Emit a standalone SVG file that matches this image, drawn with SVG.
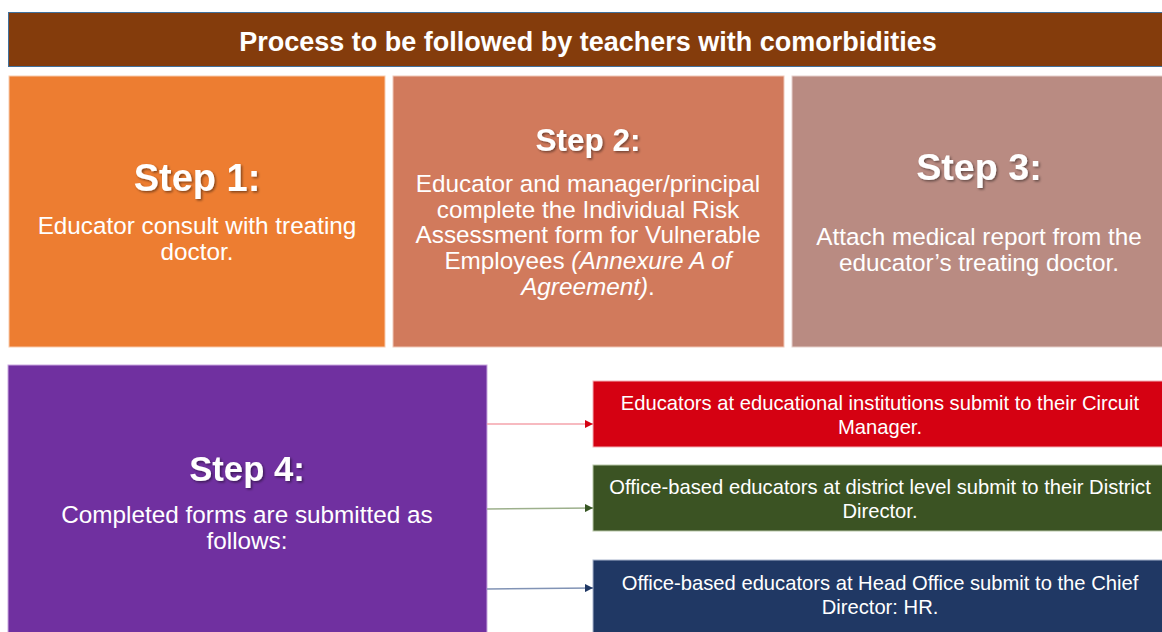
<svg xmlns="http://www.w3.org/2000/svg" width="1162" height="632" viewBox="0 0 1162 632">
<style>
text{font-family:"Liberation Sans",Arial,sans-serif;fill:#fff;text-anchor:middle}
.h{font-weight:bold;filter:url(#sh)}
.b{font-size:24.3px}
.s{font-size:20.2px}
</style>
<defs>
<filter id="sh" x="-10%" y="-20%" width="120%" height="150%">
<feDropShadow dx="1.5" dy="1.5" stdDeviation="1" flood-color="#000" flood-opacity="0.45"/>
</filter>
<marker id="ar" viewBox="0 0 10 10" refX="10" refY="5" markerWidth="8" markerHeight="8" orient="auto" markerUnits="userSpaceOnUse"><path d="M0,0L10,5L0,10z" fill="#d50112"/></marker>
<marker id="ag" viewBox="0 0 10 10" refX="10" refY="5" markerWidth="8" markerHeight="8" orient="auto" markerUnits="userSpaceOnUse"><path d="M0,0L10,5L0,10z" fill="#375623"/></marker>
<marker id="an" viewBox="0 0 10 10" refX="10" refY="5" markerWidth="8" markerHeight="8" orient="auto" markerUnits="userSpaceOnUse"><path d="M0,0L10,5L0,10z" fill="#203864"/></marker>
</defs>
<rect width="1162" height="632" fill="#fff"/>
<g id="title">
<rect x="8.5" y="12.5" width="1160" height="54" fill="#843C0C" stroke="#41719C" stroke-width="1"/>
<text x="588" y="50.5" font-size="27" font-weight="bold">Process to be followed by teachers with comorbidities</text>
</g>
<g id="step1">
<rect x="9" y="76" width="376" height="271" fill="#ED7D31" stroke="#F8CBAD" stroke-width="1"/>
<text class="h" x="197" y="191" font-size="38">Step 1:</text>
<text class="b" x="197" y="234">Educator consult with treating</text>
<text class="b" x="197" y="260">doctor.</text>
</g>
<g id="step2">
<rect x="393" y="76" width="391" height="271" fill="#D17A5C" stroke="#F0C8B8" stroke-width="1"/>
<text class="h" x="588" y="151" font-size="31.5">Step 2:</text>
<text class="b" x="588" y="192">Educator and manager/principal</text>
<text class="b" x="588" y="218">complete the Individual Risk</text>
<text class="b" x="588" y="243">Assessment form for Vulnerable</text>
<text class="b" x="588" y="269">Employees <tspan font-style="italic">(Annexure A of</tspan></text>
<text class="b" x="588" y="295"><tspan font-style="italic">Agreement)</tspan>.</text>
</g>
<g id="step3">
<rect x="792" y="76" width="372" height="271" fill="#B98B82" stroke="#E6D0CB" stroke-width="1"/>
<text class="h" x="979" y="180" font-size="37.7">Step 3:</text>
<text class="b" x="979" y="245">Attach medical report from the</text>
<text class="b" x="979" y="271">educator’s treating doctor.</text>
</g>
<g id="step4">
<rect x="8" y="365" width="479" height="270" fill="#7030A0" stroke="#C9A8E0" stroke-width="1"/>
<text class="h" x="247" y="481" font-size="34.7">Step 4:</text>
<text class="b" x="247" y="523">Completed forms are submitted as</text>
<text class="b" x="247" y="549">follows:</text>
</g>
<g id="circuit">
<rect x="593" y="381" width="571" height="66" fill="#D50112" stroke="#F4B0B5" stroke-width="1"/>
<text class="s" x="880" y="410">Educators at educational institutions submit to their Circuit</text>
<text class="s" x="880" y="434">Manager.</text>
</g>
<g id="district">
<rect x="593" y="465" width="571" height="66" fill="#3B5323" stroke="#B8C7A8" stroke-width="1"/>
<text class="s" x="880" y="494">Office-based educators at district level submit to their District</text>
<text class="s" x="880" y="518">Director.</text>
</g>
<g id="head">
<rect x="593" y="560" width="571" height="76" fill="#203864" stroke="#A8B4CC" stroke-width="1"/>
<text class="s" x="880" y="590">Office-based educators at Head Office submit to the Chief</text>
<text class="s" x="880" y="614">Director: HR.</text>
</g>
<g id="connectors" fill="none" stroke-width="1.5">
<line x1="487" y1="424" x2="593" y2="424" stroke="#F4A3AB" marker-end="url(#ar)"/>
<line x1="487" y1="509" x2="593" y2="508" stroke="#9DB08C" marker-end="url(#ag)"/>
<line x1="487" y1="589" x2="593" y2="588" stroke="#8193B5" marker-end="url(#an)"/>
</g>
</svg>
